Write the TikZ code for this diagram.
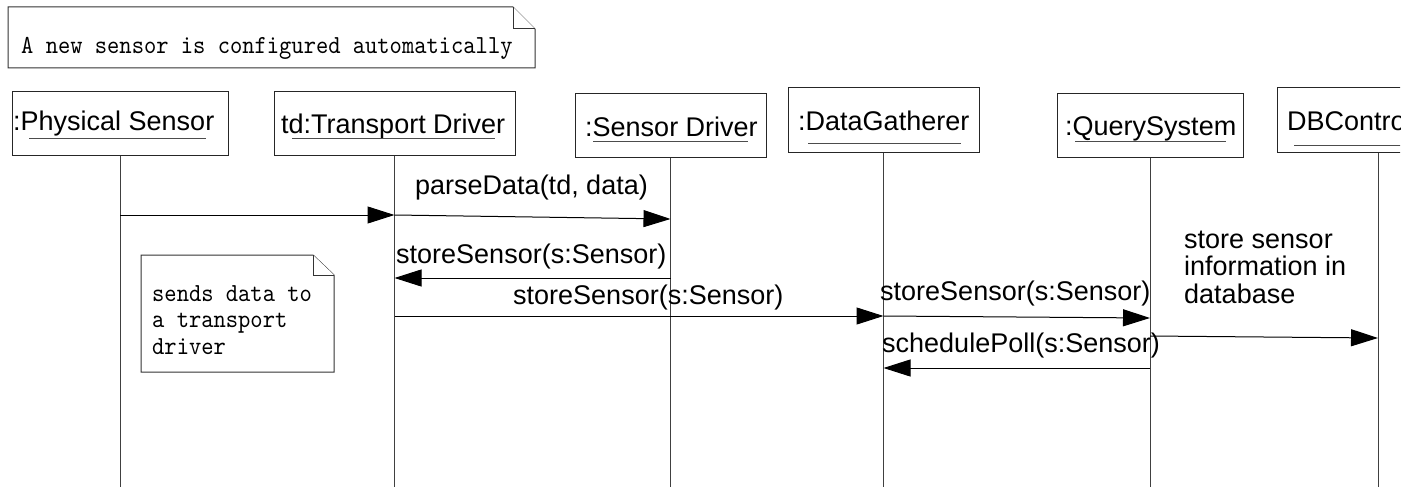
\documentclass[tikz,border=0pt]{standalone}
\usepackage{fontspec}
\newfontfamily\arialfont{Liberation Sans}
\newfontfamily\notefont[Extension=.otf,FakeStretch=0.9]{lmmono10-regular}
\usetikzlibrary{arrows.meta}
\begin{document}
\begin{tikzpicture}[x=1pt,y=-1pt,
  objbox/.style={draw=black!85, line width=1pt, inner sep=0pt},
  objlabel/.style={anchor=base west, inner sep=0pt, font=\arialfont\fontsize{27}{27}\selectfont},
  msglabel/.style={anchor=base west, inner sep=0pt, align=left, font=\arialfont\fontsize{27}{27.5}\selectfont},
  notetext/.style={anchor=base west, inner sep=0pt, align=left, font=\notefont\fontsize{26}{26.5}\selectfont},
  uline/.style={draw=black!70, line width=1pt},
  life/.style={draw=black!75, line width=1pt},
  msg/.style={draw=black, line width=1pt, -{Triangle[length=27pt,width=17pt]}},
  notebox/.style={draw=black!80, line width=1pt, fill=white, line join=miter}]
\useasboundingbox (0,0) rectangle (1416,487);
\begin{scope}
\clip (0,0) rectangle (1400,487);

% bottom end of every lifeline
\coordinate (bottom) at (0,487);

% title note with folded corner
\draw[notebox] (8,7) -- (513,7) -- (535,29) -- (535,68) -- (8,68) -- cycle;
\draw[notebox] (513,7) -- (513,29) -- (535,29);
\node[notetext] (title) at (21,53) {A new sensor is configured automatically};

% object boxes
\node[objbox, minimum width=216pt, minimum height=64pt] (ps) at (120,123) {};
\node[objbox, minimum width=241pt, minimum height=64pt] (td) at (394.5,123) {};
\node[objbox, minimum width=191pt, minimum height=64pt] (sd) at (670.5,125) {};
\node[objbox, minimum width=191pt, minimum height=65pt] (dg) at (883.5,119.5) {};
\node[objbox, minimum width=186pt, minimum height=64pt] (qs) at (1150,125) {};
\node[objbox, minimum width=202pt, minimum height=65pt] (db) at (1378,119.5) {};

% object names, underlined
\node[objlabel] (psl) at (13,130) {:Physical Sensor};
\node[objlabel] (tdl) at (281,133) {td:Transport Driver};
\node[objlabel] (sdl) at (585,136) {:Sensor Driver};
\node[objlabel] (dgl) at (798,130) {:DataGatherer};
\node[objlabel] (qsl) at (1065,135) {:QuerySystem};
\node[objlabel] (dbl) at (1287,130) {DBControl};
\draw[uline] ([xshift=16pt,yshift=-8pt]psl.base west) -- ([xshift=-8pt,yshift=-8pt]psl.base east);
\draw[uline] ([xshift=11pt,yshift=-5pt]tdl.base west) -- ([xshift=-10pt,yshift=-5pt]tdl.base east);
\draw[uline] ([xshift=8pt,yshift=-5pt]sdl.base west) -- ([xshift=-10pt,yshift=-5pt]sdl.base east);
\draw[uline] ([xshift=10pt,yshift=-13pt]dgl.base west) -- ([xshift=-8pt,yshift=-13pt]dgl.base east);
\draw[uline] ([xshift=10pt,yshift=-6pt]qsl.base west) -- ([xshift=-10pt,yshift=-6pt]qsl.base east);
\draw[uline] ([xshift=7pt,yshift=-15pt]dbl.base west) -- ([xshift=0pt,yshift=-15pt]dbl.base east);

% lifelines
\foreach \o in {ps,td,sd,dg,qs,db}
  \draw[life] (\o.south) -- (\o.south |- bottom);

% message rows
\coordinate (r0) at (0,215);
\coordinate (r1) at (0,219);
\coordinate (r2) at (0,278);
\coordinate (r3) at (0,316);
\coordinate (r4) at (0,318);
\coordinate (r5) at (0,336);
\coordinate (r6) at (0,338);
\coordinate (r7) at (0,368);

% messages
\draw[msg] (ps.south |- r0) -- (td.south |- r0);
\draw[msg] (td.south |- r0) -- (sd.south |- r1);
\draw[msg] (sd.south |- r2) -- (td.south |- r2);
\draw[msg] (td.south |- r3) -- (dg.south |- r3);
\draw[msg] (dg.south |- r3) -- (qs.south |- r4);
\draw[msg] (qs.south |- r5) -- (db.south |- r6);
\draw[msg] (qs.south |- r7) -- (dg.south |- r7);

% message labels (multi-line nodes sit on their last baseline)
\node[msglabel] (l1) at (415,194) {parseData(td, data)};
\node[msglabel] (l2) at (396,263) {storeSensor(s:Sensor)};
\node[msglabel] (l3) at (513,304) {storeSensor(s:Sensor)};
\node[msglabel] (l4) at (880,300) {storeSensor(s:Sensor)};
\node[msglabel] (l5) at (882,352) {schedulePoll(s:Sensor)};
\node[msglabel] (l6) at (1184,303) {store sensor\\information in\\database};

% side note
\draw[notebox] (141,255) -- (313,255) -- (334,275) -- (334,372) -- (141,372) -- cycle;
\draw[notebox] (313,255) -- (313,275) -- (334,275);
\node[notetext] (side) at (152,354) {sends data to\\a transport\\driver};
\end{scope}
\end{tikzpicture}
\end{document}
